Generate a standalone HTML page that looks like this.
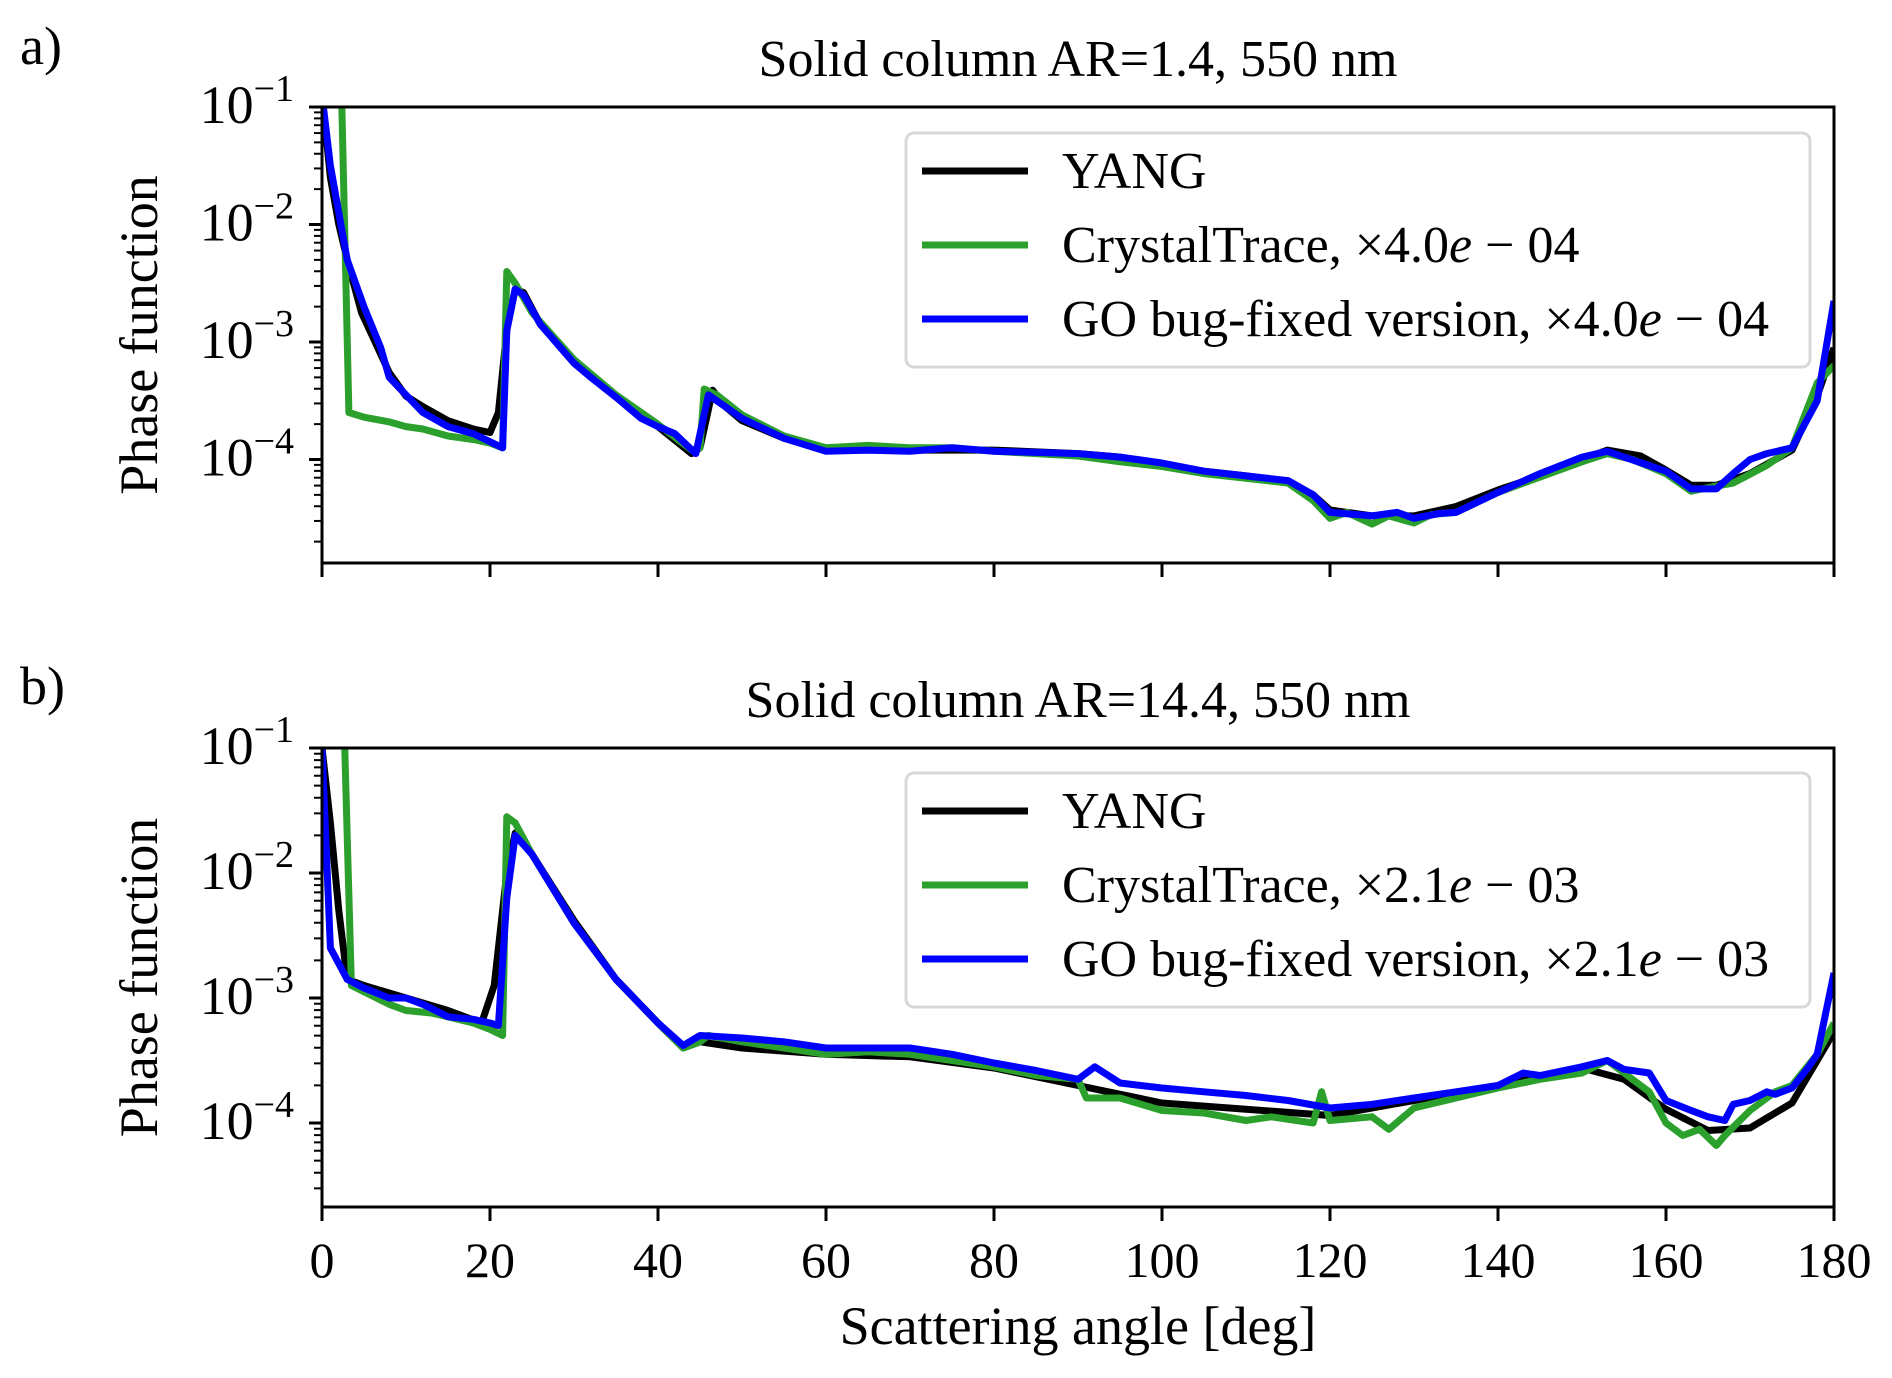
<!DOCTYPE html>
<html><head><meta charset="utf-8">
<style>
html,body{margin:0;padding:0;background:#fff;}
svg{display:block;font-family:"Liberation Serif","DejaVu Serif",serif;}
</style></head>
<body>
<svg id="fig" width="1892" height="1378" viewBox="0 0 1892 1378" xmlns="http://www.w3.org/2000/svg">
<rect width="1892" height="1378" fill="#fff"/>
</svg>
<script>
// ---------- data (log10 of phase function) ----------
const angA_yang = [0,1,2,3,4.7,6,8,10,12,15,18,20,21,22,23,24,26,30,35,40,44,45,46.5,48,50,55,60,70,80,90,95,100,105,110,115,118,120,125,130,135,140,145,150,153,157,160,163,166,170,175,178,180];
const valA_yang = [-0.9,-1.6,-2.0,-2.3,-2.75,-2.95,-3.26,-3.46,-3.55,-3.67,-3.74,-3.77,-3.6,-2.9,-2.55,-2.58,-2.85,-3.16,-3.46,-3.72,-3.95,-3.9,-3.41,-3.55,-3.67,-3.82,-3.92,-3.92,-3.92,-3.95,-3.98,-4.05,-4.1,-4.14,-4.19,-4.3,-4.43,-4.48,-4.48,-4.4,-4.26,-4.14,-4.0,-3.92,-3.97,-4.09,-4.22,-4.22,-4.12,-3.92,-3.46,-3.05];
const angA_ct = [0,2.2,3.2,5,8,10,12,15,18,20,21.5,22,23,25,30,35,40,44,45,45.5,47,50,55,60,65,70,75,80,85,90,95,100,105,110,115,118,120,122,125,127,130,132,135,140,145,150,153,156,160,163,165,168,172,175,178,180];
const valA_ct = [-0.5,-0.5,-3.6,-3.64,-3.68,-3.72,-3.74,-3.8,-3.83,-3.86,-3.9,-2.4,-2.5,-2.75,-3.15,-3.45,-3.7,-3.92,-3.9,-3.4,-3.45,-3.62,-3.8,-3.9,-3.88,-3.9,-3.9,-3.93,-3.95,-3.97,-4.02,-4.06,-4.12,-4.16,-4.2,-4.35,-4.5,-4.45,-4.55,-4.48,-4.54,-4.47,-4.45,-4.28,-4.15,-4.02,-3.95,-4.0,-4.12,-4.27,-4.24,-4.2,-4.05,-3.9,-3.35,-3.2];
const angA_go = [0,1,2,3,5,7,8,10,12,15,18,21.5,22,23,24,26,30,32,35,38,40,42,44.5,46,47,50,55,60,65,70,75,80,85,90,95,100,105,110,115,118,120,125,128,130,133,135,140,145,150,153,155,160,163,166,168,170,172,175,178,180];
const valA_go = [-0.9,-1.5,-1.9,-2.3,-2.7,-3.05,-3.3,-3.45,-3.6,-3.72,-3.78,-3.9,-2.9,-2.55,-2.6,-2.85,-3.18,-3.3,-3.47,-3.65,-3.72,-3.78,-3.95,-3.45,-3.5,-3.65,-3.82,-3.93,-3.92,-3.93,-3.9,-3.93,-3.94,-3.95,-3.98,-4.03,-4.1,-4.14,-4.18,-4.3,-4.45,-4.48,-4.45,-4.5,-4.46,-4.45,-4.28,-4.12,-3.98,-3.93,-3.98,-4.1,-4.25,-4.25,-4.12,-4.0,-3.95,-3.9,-3.5,-2.65];

const angB_yang = [0,1,2,3,5,10,15,19,20.5,22,23,25,30,35,40,43,45,50,60,70,80,90,100,110,120,130,140,150,155,160,165,170,175,178,180];
const valB_yang = [-1.0,-1.6,-2.3,-2.85,-2.9,-3.0,-3.1,-3.2,-2.9,-2.0,-1.68,-1.85,-2.38,-2.85,-3.2,-3.4,-3.35,-3.4,-3.45,-3.47,-3.56,-3.7,-3.84,-3.89,-3.94,-3.82,-3.7,-3.56,-3.65,-3.89,-4.06,-4.04,-3.84,-3.5,-3.27];
const angB_ct = [0,2.5,3.5,5,8,10,13,15,18,20,21.5,22,23,25,30,35,40,43,45,46,50,55,60,65,70,75,80,85,90,91,95,100,105,110,113,118,119,120,125,127,130,135,140,145,150,153,155,158,160,162,164,166,167,170,173,175,178,180];
const valB_ct = [-0.5,-0.5,-2.9,-2.95,-3.05,-3.1,-3.12,-3.15,-3.2,-3.25,-3.3,-1.55,-1.6,-1.85,-2.4,-2.85,-3.2,-3.4,-3.35,-3.3,-3.35,-3.4,-3.45,-3.43,-3.45,-3.5,-3.55,-3.62,-3.65,-3.8,-3.8,-3.9,-3.92,-3.98,-3.95,-4.0,-3.75,-3.98,-3.95,-4.05,-3.88,-3.8,-3.72,-3.65,-3.6,-3.5,-3.6,-3.75,-4.0,-4.1,-4.05,-4.18,-4.1,-3.9,-3.75,-3.7,-3.45,-3.2];
const angB_go = [0,1,3,5,8,10,12,15,18,20,21,22,23,25,30,35,40,43,45,50,55,60,65,70,75,80,85,90,92,95,100,105,110,115,120,125,130,135,140,143,145,150,153,155,158,160,163,165,167,168,170,172,173,175,177,178,180];
const valB_go = [-1.0,-2.6,-2.85,-2.92,-3.0,-3.0,-3.05,-3.15,-3.17,-3.2,-3.22,-2.2,-1.7,-1.85,-2.4,-2.85,-3.2,-3.38,-3.3,-3.32,-3.35,-3.4,-3.4,-3.4,-3.45,-3.52,-3.58,-3.65,-3.55,-3.68,-3.72,-3.75,-3.78,-3.82,-3.88,-3.85,-3.8,-3.75,-3.7,-3.6,-3.62,-3.55,-3.5,-3.57,-3.6,-3.82,-3.9,-3.95,-3.98,-3.85,-3.82,-3.75,-3.77,-3.72,-3.55,-3.45,-2.8];

const xTicks = [0,20,40,60,80,100,120,140,160,180];
const yDecades = [-1,-2,-3,-4];

// ---------- drawing ----------
const NS = "http://www.w3.org/2000/svg";
const svg = document.getElementById('fig');
function el(tag, attrs, parent){const e=document.createElementNS(NS,tag);for(const k in attrs)e.setAttribute(k,attrs[k]);(parent||svg).appendChild(e);return e;}

const X0=322, X1=1834;
function xs(a){return X0+(a/180)*(X1-X0);}

function panel(cfg){
  const g = el('g',{});
  
  
  const top=cfg.top, bot=cfg.bot, dec=cfg.dec;
  const ymax=-1, ymin=-1-(bot-top)/dec;
  const ys = v => top + (ymax - Math.max(ymin-0.3, Math.min(0, v)))*dec;
  const clipId = 'clip-'+cfg.id;
  const defs = el('defs',{},g);
  const cp = el('clipPath',{id:clipId},defs);
  el('rect',{x:X0,y:top,width:X1-X0,height:bot-top},cp);
  const series=[[cfg.yang,cfg.yangV,'#000','yang-line'],[cfg.ct,cfg.ctV,'#2ca02c','crystaltrace-line'],[cfg.go,cfg.goV,'#0000ff','go-line']];
  const sg = el('g',{'clip-path':'url(#'+clipId+')'},g);
  for(const [a,v,c,n] of series){
    const d = a.map((x,i)=>(i?'L':'M')+xs(x).toFixed(1)+' '+ys(v[i]).toFixed(1)).join(' ');
    const p = el('path',{d:d,fill:'none',stroke:c,'stroke-width':7,'stroke-linejoin':'round'},sg);
    
    
  }
  const fr = el('rect',{x:X0,y:top,width:X1-X0,height:bot-top,fill:'none',stroke:'#000','stroke-width':3},g);
  
  
  for(const t of xTicks){
    el('line',{x1:xs(t),x2:xs(t),y1:bot,y2:bot+14,stroke:'#000','stroke-width':3},g);
    if(cfg.xlabels){
      const tx = el('text',{x:xs(t),y:1277,'font-size':50,'text-anchor':'middle'},g);
      tx.textContent=t;
      
      
    }
  }
  for(let d=-1; d>=Math.floor(ymin); d--){
    const y = top+(ymax-d)*dec;
    if(y<=bot+0.5){
      el('line',{x1:X0-13,x2:X0,y1:y,y2:y,stroke:'#000','stroke-width':3},g);
    }
    for(let m=2;m<=9;m++){
      const yy = top+(ymax-(d-1+Math.log10(m)))*dec;
      if(yy>top+1 && yy<bot) el('line',{x1:X0-8,x2:X0,y1:yy,y2:yy,stroke:'#000','stroke-width':2},g);
    }
  }
  for(const d of yDecades){
    const y = top+(ymax-d)*dec;
    const t = el('text',{x:X0-28,y:y+16,'font-size':54,'text-anchor':'end'},g);
    
    
    t.textContent='10';
    const s = el('tspan',{dy:-22,'font-size':38},t);
    s.textContent='\u2212'+(-d);
  }
  const ti = el('text',{x:1078,y:cfg.titleY,'font-size':52,'text-anchor':'middle'},g);
  ti.textContent=cfg.title;
  
  
  const pl = el('text',{x:20,y:cfg.labelY,'font-size':54},g);
  pl.textContent=cfg.letter;
  
  
  const cy=(top+bot)/2;
  const yl = el('text',{x:157,y:cy,'font-size':54,'text-anchor':'middle',transform:'rotate(-90 157 '+cy+')'},g);
  yl.textContent='Phase function';
  
  
  const lg = el('g',{},g);
  
  
  el('rect',{x:906,y:cfg.legTop,width:904,height:234,rx:8,fill:'#fff','fill-opacity':0.85,stroke:'#d8d8d8','stroke-width':3},lg);
  const entries=[['YANG','#000',null],['CrystalTrace, ','#2ca02c',cfg.factor],['GO bug-fixed version, ','#0000ff',cfg.factor]];
  entries.forEach((e,i)=>{
    const y=cfg.legTop+38+i*74;
    const row = el('g',{},lg);
    
    
    el('line',{x1:922,x2:1028,y1:y,y2:y,stroke:e[1],'stroke-width':7},row);
    const t = el('text',{x:1062,y:y+17,'font-size':52},row);
    t.textContent=e[0];
    if(e[2]){
      const s1=el('tspan',{},t); s1.textContent='\u00d7'+e[2][0];
      const s2=el('tspan',{'font-style':'italic'},t); s2.textContent='e';
      const s3=el('tspan',{},t); s3.textContent=' \u2212 '+e[2][1];
    }
  });
}

panel({id:'panel-a',top:107,bot:563,dec:117.5,title:'Solid column AR=1.4, 550 nm',titleY:76,letter:'a)',labelY:64,legTop:133,factor:['4.0','04'],
  yang:angA_yang,yangV:valA_yang,ct:angA_ct,ctV:valA_ct,go:angA_go,goV:valA_go,xlabels:false});
panel({id:'panel-b',top:748,bot:1207,dec:125,title:'Solid column AR=14.4, 550 nm',titleY:717,letter:'b)',labelY:704,legTop:773,factor:['2.1','03'],
  yang:angB_yang,yangV:valB_yang,ct:angB_ct,ctV:valB_ct,go:angB_go,goV:valB_go,xlabels:true});

const xl = el('text',{x:1078,y:1344,'font-size':54,'text-anchor':'middle'});
xl.textContent='Scattering angle [deg]';


</script>
</body></html>
